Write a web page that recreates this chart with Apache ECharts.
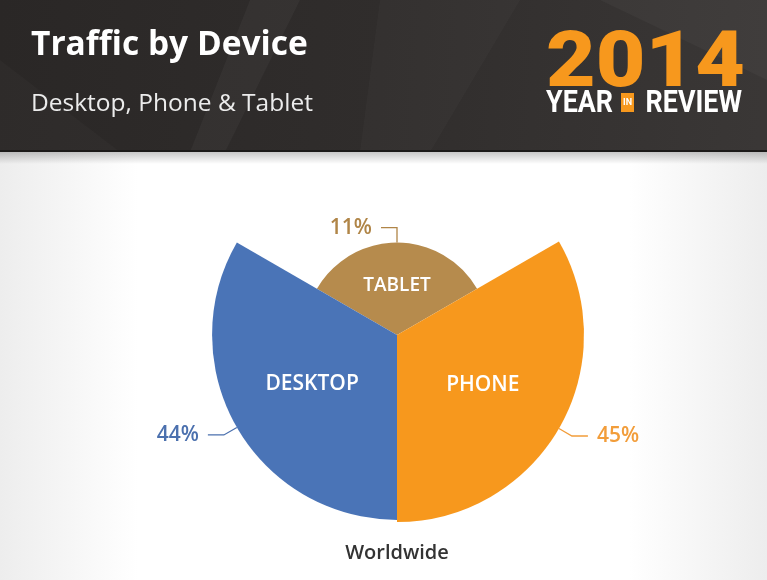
<!DOCTYPE html>
<html><head><meta charset="utf-8">
<script src="https://cdn.jsdelivr.net/npm/echarts@6/dist/echarts.min.js"></script>
<style>html,body{margin:0;padding:0;background:#fff}#c{width:767px;height:580px}</style>
</head><body><div id="c"></div>
<script>
// ---- data ----
const titleText = 'Traffic by Device';
const subtitleText = 'Desktop, Phone & Tablet';
const regionLabel = 'Worldwide';
const yearText = '2014';
const categories = ['TABLET', 'PHONE', 'DESKTOP'];
const shares = [11, 45, 44];
const shareLabels = ['11%', '45%', '44%'];

// ---- style ----
const sliceColors = ['#b68b4d', '#f7981d', '#4a74b7'];
const leaderColors = ['#b08547', '#f29d3a', '#4b70ae'];
const maxShare = Math.max.apply(null, shares);

const chart = echarts.init(document.getElementById('c'));

function renderSlice(params, api) {
  const cs = params.coordSys;
  const cx = cs.cx, cy = cs.cy, R = cs.r;
  const v = api.value(0);
  const idx = api.value(1);
  const pEdge = api.coord([maxShare, idx]);
  const pVal = api.coord([v, idx]);
  const rLin = Math.hypot(pVal[0] - cx, pVal[1] - cy);
  const r = Math.sqrt(rLin * R); // area-proportional encoding
  const theta = Math.atan2(pEdge[1] - cy, pEdge[0] - cx);
  const band = api.size([0, idx])[1];
  const ux = Math.cos(theta), uy = Math.sin(theta);
  const i = params.dataIndex;
  const p1 = [cx + ux * r, cy + uy * r];
  const p2 = [cx + ux * (r + 15), cy + uy * (r + 15)];
  const side = ux > 0.01 ? 1 : -1;
  const p3 = [p2[0] + side * 16, p2[1]];
  const inner = i === 0 ? 19 : 21;
  return {
    type: 'group',
    children: [
      { type: 'sector',
        shape: { cx: cx, cy: cy, r0: 0, r: r, startAngle: theta - band / 2, endAngle: theta + band / 2, clockwise: true },
        style: { fill: sliceColors[i] } },
      { type: 'text', x: cx + ux * r * 0.53, y: cy + uy * r * 0.53,
        style: { text: categories[i], fill: '#ffffff', fontSize: inner, fontWeight: 600,
                 fontFamily: '"Open Sans", sans-serif', align: 'center', verticalAlign: 'middle' } },
      { type: 'polyline', shape: { points: [p1, p2, p3] },
        style: { stroke: leaderColors[i], lineWidth: 1.3, fill: null } },
      { type: 'text', x: p3[0] + side * 9, y: p3[1],
        style: { text: shareLabels[i], fill: leaderColors[i], fontSize: 21, fontWeight: 600,
                 fontFamily: '"Open Sans", sans-serif', align: side > 0 ? 'left' : 'right', verticalAlign: 'middle' } }
    ]
  };
}

const option = {
  animation: false,
  backgroundColor: '#ffffff',
  polar: { center: [397, 335], radius: 187 },
  angleAxis: {
    type: 'category', data: categories, startAngle: 150, clockwise: true,
    axisLine: { show: false }, axisTick: { show: false }, axisLabel: { show: false }, splitLine: { show: false }
  },
  radiusAxis: {
    type: 'value', min: 0, max: maxShare,
    axisLine: { show: false }, axisTick: { show: false }, axisLabel: { show: false }, splitLine: { show: false }
  },
  graphic: [
    // page background with soft grey edges
    { type: 'rect', z: -10, shape: { x: 0, y: 152, width: 767, height: 428 },
      style: { fill: { type: 'linear', x: 0, y: 0, x2: 1, y2: 0, colorStops: [
        { offset: 0, color: '#ededed' }, { offset: 0.18, color: '#ffffff' },
        { offset: 0.82, color: '#ffffff' }, { offset: 1, color: '#ededed' }] } } },
    { type: 'rect', z: -9, shape: { x: 0, y: 152, width: 767, height: 12 },
      style: { fill: { type: 'linear', x: 0, y: 0, x2: 0, y2: 1, colorStops: [
        { offset: 0, color: 'rgba(0,0,0,0.22)' }, { offset: 1, color: 'rgba(0,0,0,0)' }] } } },
    // header band
    { type: 'rect', z: -8, shape: { x: 0, y: 0, width: 767, height: 152 },
      style: { fill: { type: 'linear', x: 0, y: 0, x2: 1, y2: 0.3, colorStops: [
        { offset: 0, color: '#2a2726' }, { offset: 0.5, color: '#302d2c' }, { offset: 1, color: '#3a3736' }] } } },
    { type: 'polygon', z: -7, shape: { points: [[250, 0], [300, 0], [225, 152], [190, 152]] },
      style: { fill: 'rgba(255,255,255,0.035)' } },
    { type: 'polygon', z: -7, shape: { points: [[380, 0], [520, 0], [430, 152], [360, 152]] },
      style: { fill: 'rgba(255,255,255,0.025)' } },
    { type: 'polygon', z: -7, shape: { points: [[600, 0], [767, 0], [767, 80]] },
      style: { fill: 'rgba(255,255,255,0.03)' } },
    { type: 'polygon', z: -7, shape: { points: [[0, 60], [120, 152], [0, 152]] },
      style: { fill: 'rgba(255,255,255,0.02)' } },
    { type: 'rect', z: -7, shape: { x: 0, y: 150, width: 767, height: 2 }, style: { fill: '#1c1a19' } },
    // titles
    { type: 'text', x: 31, y: 45, style: { text: titleText, fill: '#ffffff', fontSize: 33.5, fontWeight: 700,
        fontFamily: '"Open Sans", sans-serif', verticalAlign: 'middle' } },
    { type: 'text', x: 31, y: 104, style: { text: subtitleText, fill: '#ececec', fontSize: 24.5, fontWeight: 400,
        fontFamily: '"Open Sans", sans-serif', verticalAlign: 'middle' } },
    // 2014 year in review logo
    { type: 'text', x: 546, y: 66, scaleX: 1.1, style: { text: yearText, fill: '#f7981d', fontSize: 78, fontWeight: 900,
        fontFamily: 'Roboto, sans-serif', verticalAlign: 'middle' } },
    { type: 'text', x: 546, y: 104, scaleX: 0.84, style: { text: 'YEAR', fill: '#ffffff', fontSize: 32, fontWeight: 700,
        fontFamily: 'Roboto, sans-serif', verticalAlign: 'middle' } },
    { type: 'rect', shape: { x: 621, y: 93, width: 13, height: 19 }, style: { fill: '#f7981d' } },
    { type: 'text', x: 627.5, y: 103, style: { text: 'IN', fill: '#ffffff', fontSize: 9, fontWeight: 700,
        fontFamily: 'Roboto, sans-serif', align: 'center', verticalAlign: 'middle' } },
    { type: 'text', x: 742, y: 104, scaleX: 0.84, style: { text: 'REVIEW', fill: '#ffffff', fontSize: 32, fontWeight: 700,
        fontFamily: 'Roboto, sans-serif', align: 'right', verticalAlign: 'middle' } },
    // footer label
    { type: 'text', x: 397, y: 553, style: { text: regionLabel, fill: '#333333', fontSize: 20, fontWeight: 600,
        fontFamily: '"Open Sans", sans-serif', align: 'center', verticalAlign: 'middle' } }
  ],
  series: [{
    type: 'custom',
    coordinateSystem: 'polar',
    renderItem: renderSlice,
    data: shares.map(function (v, i) { return [v, i]; })
  }]
};
chart.setOption(option);
</script>
</body></html>
